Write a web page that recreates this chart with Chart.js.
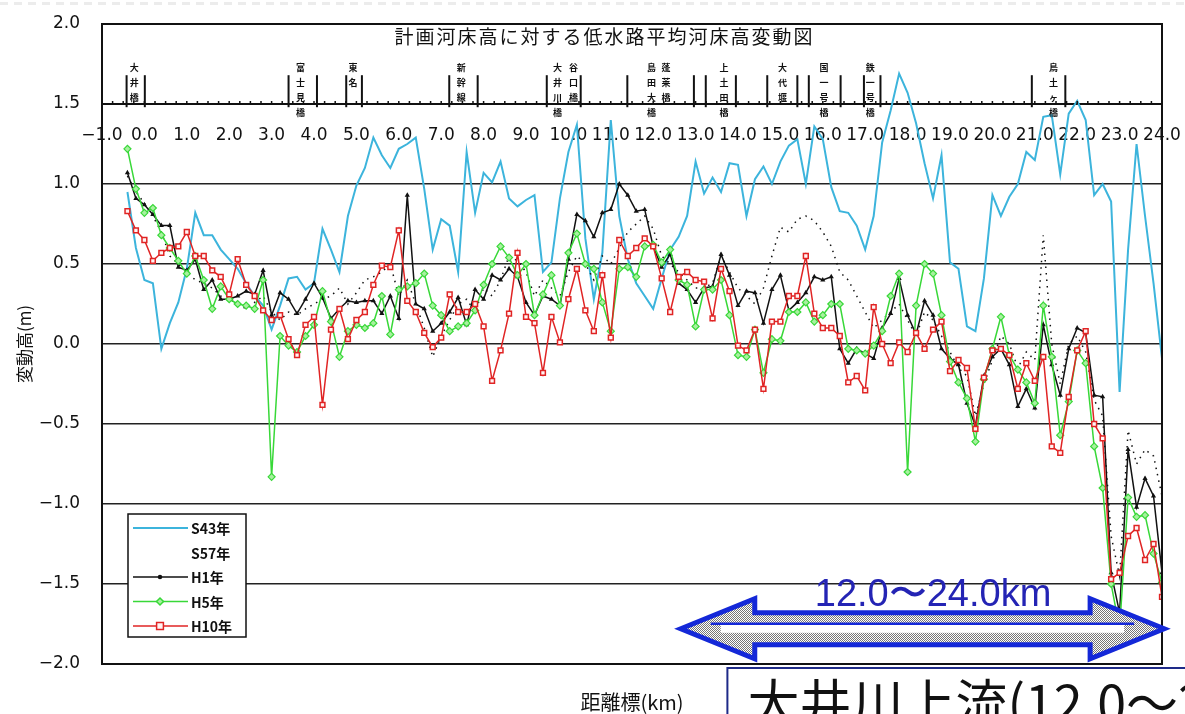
<!DOCTYPE html>
<html lang="ja">
<head>
<meta charset="utf-8">
<title>計画河床高に対する低水路平均河床高変動図</title>
<script src="https://cdn.jsdelivr.net/npm/chart.js@4.4.1/dist/chart.umd.min.js"></script>
<style>
  html, body { margin: 0; padding: 0; background: #fff; }
  #wrap { width: 1185px; height: 714px; position: relative; overflow: hidden; }
</style>
</head>
<body>
<div id="wrap"><canvas id="graph" width="1185" height="714"></canvas></div>
<script>
// 距離標 (km)
const kmPoints = [
  -0.4, -0.2, 0.0, 0.2, 0.4, 0.6, 0.8, 1.0, 1.2, 1.4,
  1.6, 1.8, 2.0, 2.2, 2.4, 2.6, 2.8, 3.0, 3.2, 3.4,
  3.6, 3.8, 4.0, 4.2, 4.4, 4.6, 4.8, 5.0, 5.2, 5.4,
  5.6, 5.8, 6.0, 6.2, 6.4, 6.6, 6.8, 7.0, 7.2, 7.4,
  7.6, 7.8, 8.0, 8.2, 8.4, 8.6, 8.8, 9.0, 9.2, 9.4,
  9.6, 9.8, 10.0, 10.2, 10.4, 10.6, 10.8, 11.0, 11.2, 11.4,
  11.6, 11.8, 12.0, 12.2, 12.4, 12.6, 12.8, 13.0, 13.2, 13.4,
  13.6, 13.8, 14.0, 14.2, 14.4, 14.6, 14.8, 15.0, 15.2, 15.4,
  15.6, 15.8, 16.0, 16.2, 16.4, 16.6, 16.8, 17.0, 17.2, 17.4,
  17.6, 17.8, 18.0, 18.2, 18.4, 18.6, 18.8, 19.0, 19.2, 19.4,
  19.6, 19.8, 20.0, 20.2, 20.4, 20.6, 20.8, 21.0, 21.2, 21.4,
  21.6, 21.8, 22.0, 22.2, 22.4, 22.6, 22.8, 23.0, 23.2, 23.4,
  23.6, 23.8, 24.0
];

// 変動高 (m)
const s43 = [
  0.95, 0.60, 0.40, 0.38, -0.03, 0.13, 0.26, 0.47, 0.82, 0.68,
  0.68, 0.59, 0.53, 0.47, 0.38, 0.30, 0.24, 0.09, 0.24, 0.41,
  0.42, 0.34, 0.38, 0.72, 0.59, 0.45, 0.80, 0.99, 1.10, 1.29,
  1.18, 1.10, 1.22, 1.25, 1.29, 0.97, 0.59, 0.78, 0.74, 0.45,
  1.20, 0.82, 1.07, 1.01, 1.14, 0.91, 0.86, 0.90, 0.93, 0.45,
  0.51, 0.91, 1.20, 1.37, 0.66, 0.28, 0.57, 1.40, 0.80, 0.53,
  0.38, 0.30, 0.22, 0.41, 0.59, 0.67, 0.80, 1.14, 0.94, 1.04,
  0.95, 1.13, 1.12, 0.80, 1.03, 1.11, 1.00, 1.14, 1.24, 1.28,
  1.00, 1.36, 1.28, 0.98, 0.83, 0.82, 0.74, 0.59, 0.80, 1.26,
  1.46, 1.69, 1.57, 1.38, 1.13, 0.91, 1.18, 0.51, 0.47, 0.11,
  0.08, 0.41, 0.93, 0.80, 0.92, 1.00, 1.20, 1.15, 1.42, 1.43,
  1.06, 1.44, 1.52, 1.40, 0.93, 1.00, 0.89, -0.30, 0.59, 1.25,
  0.80, 0.38, -0.09
];
const s57 = [
  1.05, 0.95, 0.88, 0.80, 0.70, 0.55, 0.50, 0.45, 0.40, 0.38,
  0.35, 0.30, 0.28, 0.25, 0.22, 0.26, 0.30, 0.20, 0.15, 0.20,
  0.18, 0.22, 0.25, 0.28, 0.30, 0.35, 0.25, 0.32, 0.40, 0.42,
  0.45, 0.50, 0.30, 0.40, 0.25, 0.10, -0.08, 0.05, 0.15, 0.25,
  0.28, 0.20, 0.35, 0.30, 0.40, 0.55, 0.52, 0.45, 0.30, 0.40,
  0.35, 0.30, 0.45, 0.55, 0.50, 0.40, 0.55, 0.50, 0.60, 0.70,
  0.75, 0.80, 0.72, 0.55, 0.50, 0.45, 0.40, 0.35, 0.35, 0.38,
  0.55, 0.45, 0.35, 0.30, 0.25, 0.35, 0.55, 0.73, 0.70, 0.78,
  0.80, 0.77, 0.70, 0.61, 0.45, 0.40, 0.30, 0.20, 0.10, 0.15,
  0.20, 0.25, 0.15, 0.05, 0.20, 0.15, 0.05, -0.05, -0.15, -0.20,
  -0.45, -0.25, -0.10, 0.05, 0.00, -0.15, -0.05, -0.10, 0.68, 0.00,
  -0.25, 0.00, 0.05, -0.05, -0.35, -0.45, -1.20, -1.45, -0.54, -0.75,
  -0.66, -0.70, -0.95
];
const h1 = [
  1.07, 0.91, 0.87, 0.81, 0.74, 0.74, 0.48, 0.46, 0.53, 0.34,
  0.40, 0.28, 0.28, 0.30, 0.33, 0.31, 0.46, 0.18, 0.32, 0.28,
  0.19, 0.28, 0.38, 0.29, 0.16, 0.22, 0.27, 0.26, 0.27, 0.27,
  0.19, 0.30, 0.16, 0.93, 0.25, 0.22, 0.08, 0.13, 0.20, 0.29,
  0.12, 0.34, 0.28, 0.43, 0.40, 0.47, 0.42, 0.26, 0.18, 0.30,
  0.28, 0.24, 0.53, 0.81, 0.77, 0.67, 0.82, 0.84, 1.00, 0.93,
  0.83, 0.84, 0.61, 0.48, 0.56, 0.38, 0.34, 0.26, 0.35, 0.36,
  0.56, 0.43, 0.24, 0.33, 0.32, 0.13, 0.34, 0.43, 0.21, 0.26,
  0.32, 0.42, 0.40, 0.42, -0.03, -0.12, -0.03, -0.06, -0.09, 0.10,
  0.19, 0.41, 0.18, 0.06, 0.27, 0.18, -0.03, -0.09, -0.13, -0.37,
  -0.51, -0.20, -0.08, -0.03, -0.13, -0.39, -0.28, -0.40, 0.12, -0.13,
  -0.32, -0.03, 0.10, 0.07, -0.32, -0.33, -1.43, -1.68, -0.66, -1.02,
  -0.84, -0.95, -1.43
];
const h5 = [
  1.22, 0.97, 0.82, 0.85, 0.68, 0.60, 0.52, 0.44, 0.55, 0.40,
  0.22, 0.36, 0.28, 0.25, 0.24, 0.22, 0.40, -0.83, 0.05, -0.01,
  -0.05, 0.05, 0.12, 0.33, 0.14, -0.08, 0.08, 0.12, 0.10, 0.13,
  0.30, 0.06, 0.34, 0.36, 0.38, 0.44, 0.24, 0.18, 0.08, 0.11,
  0.13, 0.21, 0.37, 0.50, 0.61, 0.54, 0.43, 0.50, 0.18, 0.31,
  0.43, 0.24, 0.57, 0.69, 0.50, 0.47, 0.26, 0.08, 0.47, 0.48,
  0.42, 0.61, 0.62, 0.51, 0.59, 0.40, 0.37, 0.11, 0.34, 0.34,
  0.40, 0.18, -0.07, -0.08, 0.09, -0.18, 0.03, 0.02, 0.20, 0.20,
  0.26, 0.14, 0.18, 0.25, 0.25, -0.03, -0.04, -0.06, -0.01, 0.08,
  0.30, 0.44, -0.80, 0.24, 0.50, 0.44, 0.18, -0.11, -0.24, -0.34,
  -0.61, -0.22, -0.03, 0.17, -0.07, -0.16, -0.24, -0.37, 0.24, -0.08,
  -0.57, -0.36, -0.04, -0.12, -0.64, -0.90, -1.50, -1.78, -0.96, -1.08,
  -1.07, -1.31, -1.49
];
const h10 = [
  0.83, 0.71, 0.65, 0.52, 0.57, 0.60, 0.61, 0.70, 0.55, 0.55,
  0.46, 0.42, 0.31, 0.53, 0.37, 0.30, 0.21, 0.15, 0.18, 0.03,
  -0.07, 0.12, 0.17, -0.38, 0.09, 0.22, 0.03, 0.15, 0.20, 0.37,
  0.49, 0.48, 0.71, 0.27, 0.20, 0.07, -0.02, 0.04, 0.31, 0.20,
  0.20, 0.25, 0.11, -0.23, -0.04, 0.19, 0.57, 0.17, 0.13, -0.18,
  0.17, 0.01, 0.28, 0.47, 0.21, 0.08, 0.43, 0.04, 0.65, 0.55,
  0.60, 0.66, 0.61, 0.41, 0.20, 0.42, 0.45, 0.40, 0.39, 0.16,
  0.47, 0.33, -0.01, -0.04, 0.09, -0.28, 0.14, 0.14, 0.30, 0.30,
  0.55, 0.19, 0.10, 0.10, 0.05, -0.24, -0.20, -0.29, 0.23, 0.00,
  -0.12, 0.01, -0.05, 0.07, -0.03, 0.09, 0.14, -0.17, -0.10, -0.15,
  -0.53, -0.21, -0.04, -0.03, -0.07, -0.28, -0.12, -0.23, -0.08, -0.64,
  -0.68, -0.33, -0.04, 0.08, -0.50, -0.59, -1.47, -1.43, -1.20, -1.15,
  -1.35, -1.25, -1.58
];

const seriesNames = ['S43年', 'S57年', 'H1年', 'H5年', 'H10年'];

// 橋梁・横断構造物の位置 (km) と名称
const landmarkKm = [-0.24, 3.68, 4.92, 7.47, 9.74, 10.12, 11.96, 12.30, 13.67, 15.05, 16.03, 17.12, 21.44];
const landmarkNames = ['大井橋', '富士見橋', '東名', '新幹線', '大井川橋', '谷口橋', '島田大橋', '蓬莱橋', '上土田橋', '大代堰', '国一号橋', '鉄一号橋', '鳥土ヶ橋'];
const bridgeLineKm = [-0.42, 0.01, 3.40, 4.07, 4.76, 5.13, 7.19, 7.86, 9.49, 10.29, 11.39, 12.96, 13.24, 13.95, 14.69, 15.40, 15.67, 16.42, 16.97, 17.36, 20.93, 21.72];

const chartTitle = '計画河床高に対する低水路平均河床高変動図';
const yTitle = '変動高(m)';
const xTitle = '距離標(km)';
const rangeLabel = '12.0〜24.0km';
const rangeStart = 12.65;
const rangeEnd = 24.05;
const sectionTitle = '大井川上流(12.0〜24.0km)';

const JP = "'Noto Sans CJK JP', 'Noto Sans', sans-serif";
const NUM = "'DejaVu Sans', sans-serif";

const toPoints = vals => vals.map((v, i) => ({ x: kmPoints[i], y: v }));
const fmt = v => (v < 0 ? '\u2212' : '') + Math.abs(v).toFixed(1);

// 矢印の網掛けパターン
function hatchPattern(ctx) {
  const c = document.createElement('canvas');
  c.width = 2; c.height = 2;
  const p = c.getContext('2d');
  p.fillStyle = '#ffffff';
  p.fillRect(0, 0, 2, 2);
  p.fillStyle = '#777777';
  p.fillRect(0, 0, 1, 1);
  p.fillRect(1, 1, 1, 1);
  return ctx.createPattern(c, 'repeat');
}

const decorations = {
  id: 'decorations',
  beforeDraw(chart) {
    const { ctx, width, height } = chart;
    ctx.save();
    ctx.fillStyle = '#ffffff';
    ctx.fillRect(0, 0, width, height);
    ctx.fillStyle = '#ececec';
    for (let x = 0; x < width; x += 14) ctx.fillRect(x, 2, 8, 3);
    ctx.restore();
  },
  afterDatasetsDraw(chart) {
    const { ctx, chartArea, scales } = chart;
    const y = scales.y;
    // 凡例
    const left = chartArea.left + 26;
    const top = y.getPixelForValue(-1.0) + 10;
    ctx.save();
    ctx.fillStyle = '#ffffff';
    ctx.fillRect(left, top, 118, 123);
    ctx.strokeStyle = '#111';
    ctx.lineWidth = 1.5;
    ctx.strokeRect(left, top, 118, 123);
    ctx.font = 'bold 14px ' + JP;
    ctx.textBaseline = 'middle';
    chart.data.datasets.forEach((ds, i) => {
      const ry = top + 14 + i * 24.5;
      if (ds.legendLine !== false) {
        ctx.strokeStyle = ds.borderColor;
        ctx.lineWidth = ds.borderWidth;
        ctx.setLineDash([]);
        ctx.beginPath();
        ctx.moveTo(left + 5, ry);
        ctx.lineTo(left + 60, ry);
        ctx.stroke();
        if (ds.pointRadius > 0) {
          const r = ds.pointRadius;
          ctx.fillStyle = ds.pointBackgroundColor;
          ctx.strokeStyle = ds.borderColor;
          ctx.lineWidth = 1.5;
          ctx.beginPath();
          const cx = left + 32;
          if (ds.pointStyle === 'rectRot') {
            ctx.moveTo(cx, ry - r); ctx.lineTo(cx + r, ry); ctx.lineTo(cx, ry + r); ctx.lineTo(cx - r, ry); ctx.closePath();
          } else if (ds.pointStyle === 'rect') {
            ctx.rect(cx - r, ry - r, r * 2, r * 2);
          } else {
            ctx.arc(cx, ry, r, 0, Math.PI * 2);
          }
          ctx.fill();
          ctx.stroke();
        }
      }
      ctx.fillStyle = '#111';
      ctx.fillText(ds.label, left + 63, ry + 1);
    });
    ctx.restore();
  },
  afterDraw(chart) {
    const { ctx, chartArea, scales } = chart;
    const x = scales.x, y = scales.y;
    ctx.save();

    // 枠
    ctx.strokeStyle = '#111';
    ctx.lineWidth = 2;
    ctx.strokeRect(chartArea.left, chartArea.top, chartArea.right - chartArea.left, chartArea.bottom - chartArea.top);

    // 表題
    ctx.fillStyle = '#111';
    ctx.font = '19px ' + JP;
    ctx.textAlign = 'center';
    ctx.textBaseline = 'middle';
    ctx.letterSpacing = '2px';
    ctx.fillText(chartTitle, x.getPixelForValue(10.85), chartArea.top + 13);
    ctx.letterSpacing = '0px';

    // 縦軸タイトル
    ctx.save();
    ctx.translate(25, y.getPixelForValue(0));
    ctx.rotate(-Math.PI / 2);
    ctx.font = '17px ' + JP;
    ctx.fillText(yTitle, 0, 0);
    ctx.restore();

    // 横軸タイトル
    ctx.font = '20px ' + JP;
    ctx.fillText(xTitle, x.getPixelForValue(11.5), chartArea.bottom + 38);

    // 距離標の小目盛
    const axisY = y.getPixelForValue(1.5);
    ctx.strokeStyle = '#111';
    ctx.lineWidth = 1.5;
    for (let k = -1; k <= 24.001; k += 0.25) {
      const px = x.getPixelForValue(k);
      ctx.beginPath();
      ctx.moveTo(px, axisY - 3);
      ctx.lineTo(px, axisY);
      ctx.stroke();
    }

    // 橋梁位置の縦線
    ctx.lineWidth = 2;
    bridgeLineKm.forEach(km => {
      const px = x.getPixelForValue(km);
      ctx.beginPath();
      ctx.moveTo(px, y.getPixelForValue(1.68));
      ctx.lineTo(px, y.getPixelForValue(1.48));
      ctx.stroke();
    });

    // 橋梁名(縦書き)
    ctx.font = 'bold 9px ' + JP;
    landmarkKm.forEach((km, i) => {
      const px = x.getPixelForValue(km);
      const chars = Array.from(landmarkNames[i]);
      const y0 = y.getPixelForValue(1.73);
      chars.forEach((ch, j) => {
        ctx.fillText(ch, px, y0 + j * 15);
      });
    });

    // 区間矢印
    const xl = x.getPixelForValue(rangeStart);
    const xr = x.getPixelForValue(rangeEnd);
    const yc = y.getPixelForValue(-1.78);
    const hl = 74, hh = 30, sh = 16;
    const arrow = () => {
      ctx.beginPath();
      ctx.moveTo(xl, yc);
      ctx.lineTo(xl + hl, yc - hh);
      ctx.lineTo(xl + hl, yc - sh);
      ctx.lineTo(xr - hl, yc - sh);
      ctx.lineTo(xr - hl, yc - hh);
      ctx.lineTo(xr, yc);
      ctx.lineTo(xr - hl, yc + hh);
      ctx.lineTo(xr - hl, yc + sh);
      ctx.lineTo(xl + hl, yc + sh);
      ctx.lineTo(xl + hl, yc + hh);
      ctx.closePath();
    };
    arrow();
    ctx.fillStyle = hatchPattern(ctx);
    ctx.fill();
    ctx.fillStyle = '#ffffff';
    ctx.fillRect(xl + 40, yc - 4, xr - xl - 80, 8);
    ctx.strokeStyle = '#1428d8';
    ctx.lineWidth = 2.5;
    ctx.beginPath();
    ctx.moveTo(xl + 30, yc - 5);
    ctx.lineTo(xr - 30, yc - 5);
    ctx.stroke();
    ctx.lineWidth = 5;
    ctx.lineJoin = 'miter';
    arrow();
    ctx.stroke();

    ctx.fillStyle = '#2424b4';
    ctx.font = '38px ' + "'Liberation Sans', Arial, sans-serif";
    ctx.fillText(rangeLabel, x.getPixelForValue(18.6), y.getPixelForValue(-1.575));

    // 区間名の枠
    const bx = x.getPixelForValue(13.75);
    const by = chartArea.bottom + 4;
    ctx.fillStyle = '#ffffff';
    ctx.fillRect(bx, by, chart.width - bx + 5, 60);
    ctx.strokeStyle = '#1e2a88';
    ctx.lineWidth = 2;
    ctx.strokeRect(bx, by, chart.width - bx + 5, 60);
    ctx.fillStyle = '#111';
    ctx.font = '52px ' + JP;
    ctx.textAlign = 'left';
    ctx.textBaseline = 'top';
    ctx.fillText(sectionTitle, bx + 20, by + 9);

    ctx.restore();
  }
};

const ctx = document.getElementById('graph').getContext('2d');

const chart = new Chart(ctx, {
  type: 'line',
  data: {
    datasets: [
      {
        label: seriesNames[0], data: toPoints(s43), order: 5,
        borderColor: '#3cb4dc', borderWidth: 2, pointRadius: 0, tension: 0
      },
      {
        label: seriesNames[1], data: toPoints(s57), order: 4, legendLine: false,
        borderColor: '#111', borderWidth: 1.5, borderDash: [1.5, 5], pointRadius: 0, tension: 0
      },
      {
        label: seriesNames[2], data: toPoints(h1), order: 3,
        borderColor: '#111', borderWidth: 1.5, pointRadius: 1.5, pointStyle: 'triangle',
        pointBackgroundColor: '#111', pointBorderColor: '#111', tension: 0
      },
      {
        label: seriesNames[3], data: toPoints(h5), order: 2,
        borderColor: '#38d838', borderWidth: 1.5, pointRadius: 3.5, pointStyle: 'rectRot',
        pointBackgroundColor: '#a8f0a0', pointBorderColor: '#38d838', pointBorderWidth: 1.2, tension: 0
      },
      {
        label: seriesNames[4], data: toPoints(h10), order: 1,
        borderColor: '#e02424', borderWidth: 1.5, pointRadius: 3.4, pointStyle: 'rect',
        pointBackgroundColor: '#fff4f4', pointBorderColor: '#e02424', pointBorderWidth: 1.5, tension: 0
      }
    ]
  },
  options: {
    responsive: false,
    animation: false,
    devicePixelRatio: 1,
    layout: { padding: { top: 24, right: 23, bottom: 50, left: 0 } },
    plugins: {
      legend: { display: false },
      tooltip: { enabled: false }
    },
    scales: {
      x: {
        type: 'linear',
        min: -1,
        max: 24,
        position: { y: 1.5 },
        // 目盛ラベルのはみ出し分を描画領域の余白に加えない
        afterFit: scale => { scale.paddingLeft = 0; scale.paddingRight = 0; },
        ticks: {
          stepSize: 1,
          autoSkip: false,
          maxRotation: 0,
          padding: 21,
          color: '#111',
          font: { size: 17, family: NUM },
          callback: fmt
        },
        grid: { display: false, drawTicks: false },
        border: { display: true, color: '#111', width: 2 }
      },
      y: {
        min: -2,
        max: 2,
        afterFit: scale => { scale.width = 102; scale.paddingTop = 0; scale.paddingBottom = 0; },
        ticks: {
          stepSize: 0.5,
          padding: 22,
          color: '#111',
          font: { size: 17, family: NUM },
          callback: fmt
        },
        grid: { color: '#222', lineWidth: 1.5, drawTicks: false },
        border: { color: '#111', width: 2 }
      }
    }
  },
  plugins: [decorations]
});
</script>
</body>
</html>
